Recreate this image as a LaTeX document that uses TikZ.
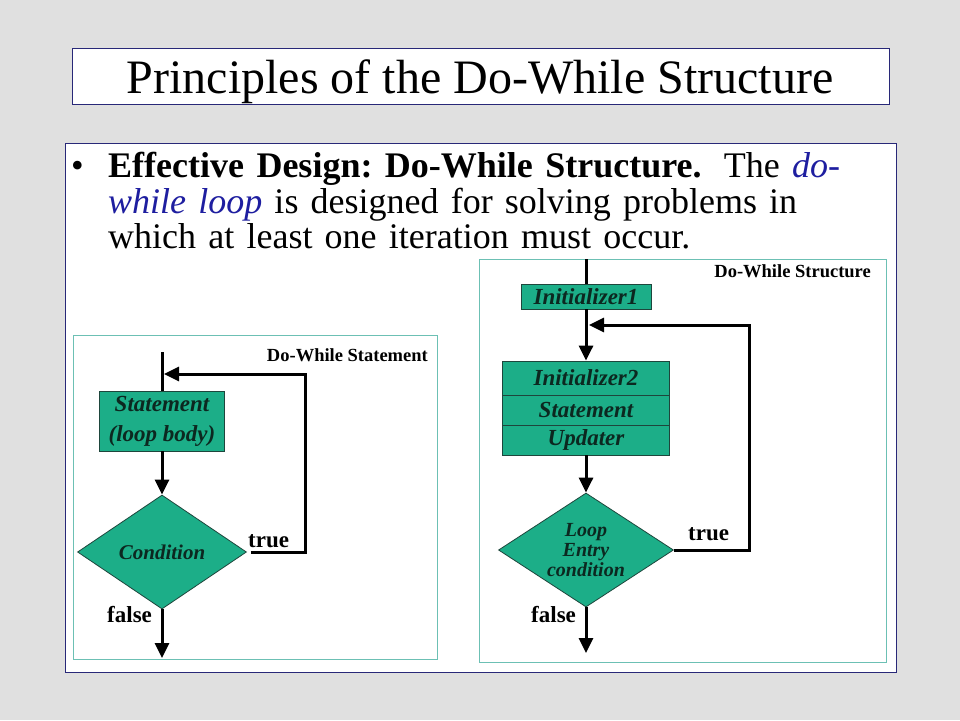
\documentclass[tikz,border=0pt]{standalone}
\usepackage{fontspec}
\setmainfont{Liberation Serif}
\usetikzlibrary{arrows.meta,shapes.geometric}
\definecolor{bggray}{RGB}{224,224,224}
\definecolor{navyb}{RGB}{40,40,120}
\definecolor{dwblue}{RGB}{30,30,160}
\definecolor{tealf}{RGB}{28,174,136}
\definecolor{tealline}{RGB}{108,192,180}
\definecolor{darkt}{RGB}{12,40,32}
\definecolor{boxedge}{RGB}{30,70,60}
\newcommand\dwfs[1]{\fontsize{#1}{#1}\selectfont}
\tikzset{
  x=1pt, y=-1pt,
  panel/.style={draw=navyb, line width=1pt, fill=white},
  inner/.style={draw=tealline, line width=1pt, fill=white},
  procbox/.style={draw=boxedge, line width=0.8pt, fill=tealf, text=darkt, font=\dwfs{23}\bfseries\itshape, inner sep=0pt, align=center},
  decbox/.style={diamond, draw=boxedge, line width=0.8pt, fill=tealf, text=darkt, inner sep=0pt, align=center},
  flow/.style={line width=3pt, draw=black},
  arr/.style={flow, -{Triangle[length=15pt,width=14pt]}},
  lbl/.style={font=\dwfs{23}\bfseries, inner sep=0pt},
  captxt/.style={font=\dwfs{18.5}\bfseries, inner sep=0pt},
}
\begin{document}
\begin{tikzpicture}
\fill[bggray] (0,0) rectangle (960,720);
\useasboundingbox (0,0) rectangle (960,720);

% title
\draw[panel] (72,48) rectangle (889,104);
\node[anchor=base, font=\dwfs{48}, inner sep=0pt] (title) at (480,93) {Principles of the Do-While Structure};

% main panel
\draw[panel] (65,143) rectangle (896,672);
\node[anchor=base west, font=\dwfs{36}, inner sep=0pt] (bul) at (71,177) {\textbullet};
\node[anchor=base west, font=\dwfs{36}, inner sep=0pt] (l1) at (108,177)
  {\hbox to 732pt{\textbf{Effective Design:~Do-While~Structure.} The \textcolor{dwblue}{\textit{do-}}}};
\node[anchor=base west, font=\dwfs{36}, inner sep=0pt] (l2) at (108,213)
  {\hbox to 689pt{\textcolor{dwblue}{\textit{while loop}} is designed for solving problems in}};
\node[anchor=base west, font=\dwfs{36}, inner sep=0pt] (l3) at (108,248)
  {\hbox to 582pt{which at least one iteration must occur.}};

% left inner panel
\draw[inner] (73,335) rectangle (437,659);
\node[captxt, anchor=base east] (capl) at (428,361) {Do-While Statement};
\coordinate (lt) at (162,352);
\node[procbox, minimum width=125pt, minimum height=60pt] (stmt) at (162,421) {Statement\\[7pt](loop body)};
\node[decbox, minimum width=169pt, minimum height=114pt, aspect=1.48, font=\dwfs{21}\bfseries\itshape] (cond) at (162,552) {Condition};
\coordinate (lr) at (305,374);
\coordinate (lj) at (164,374);
\coordinate (lf) at (162,658);
\draw[flow] (lt) -- (stmt.north);
\draw[arr] (stmt.south) -- (cond.north);
\draw[arr] ([xshift=4pt]cond.east) -| (lr) -- (lj);
\draw[arr] (cond.south) -- (lf);
\node[lbl, anchor=base west] (tl) at (248,547) {true};
\node[lbl, anchor=base west] (fl) at (107,622) {false};

% right inner panel
\draw[inner] (479,259) rectangle (886,662);
\node[captxt, anchor=base east] (capr) at (871,277) {Do-While Structure};
\coordinate (rt) at (586,259);
\node[procbox, minimum width=130pt, minimum height=25pt] (init1) at (586,296.5) {Initializer1};
\node[procbox, minimum width=167pt, minimum height=34pt] (init2) at (586,378) {Initializer2};
\node[procbox, minimum width=167pt, minimum height=30pt] (stmt2) at (586,410) {Statement};
\node[procbox, minimum width=167pt, minimum height=30pt] (upd) at (586,440) {Updater};
\node[decbox, minimum width=175pt, minimum height=114pt, aspect=1.53, font=\dwfs{20}\bfseries\itshape] (cond2) at (586,550) {Loop\\[0pt]Entry\\[0pt]condition};
\coordinate (rr) at (749,325);
\coordinate (rj) at (589,325);
\coordinate (rf) at (586,653);
\draw[flow] (rt) -- (init1.north);
\draw[arr] (init1.south) -- (init2.north);
\draw[arr] (upd.south) -- (cond2.north);
\draw[arr] (cond2.east) -| (rr) -- (rj);
\draw[arr] (cond2.south) -- (rf);
\node[lbl, anchor=base west] (tr) at (688,540) {true};
\node[lbl, anchor=base west] (fr) at (531,622) {false};
\end{tikzpicture}
\end{document}
